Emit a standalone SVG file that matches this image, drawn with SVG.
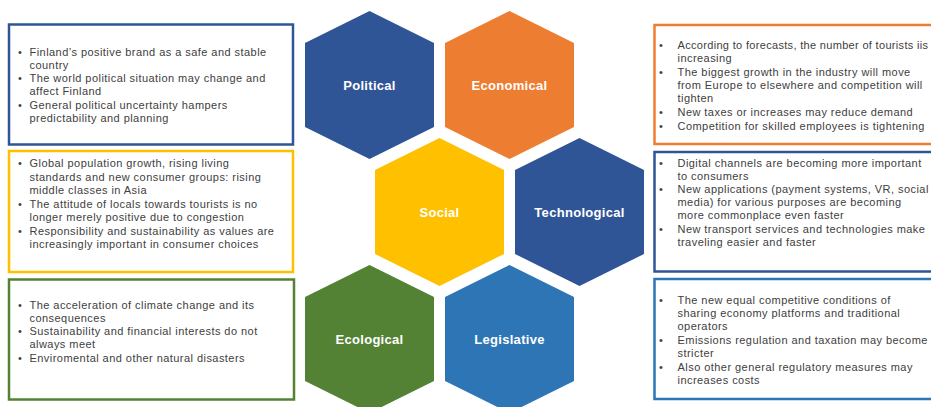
<svg xmlns="http://www.w3.org/2000/svg" width="931" height="407" viewBox="0 0 931 407">
<style>
.box{fill:#fff;stroke-width:2.5}
.hex-t{font-family:"Liberation Sans",Arial,sans-serif;font-weight:bold;font-size:13px;letter-spacing:0.3px;fill:#fff;text-anchor:middle}
.body{font-family:"Liberation Sans",Arial,sans-serif;font-size:11px;letter-spacing:0.45px;fill:#404040}
</style>
<defs>
<polygon id="hex" points="0,-74 64.5,-42 64.5,42 0,74 -64.5,42 -64.5,-42"/>
</defs>
<rect width="931" height="407" fill="#fff"/>
<g id="connectors"></g>

<g id="box-political">
<rect class="box" x="9" y="24.5" width="284" height="120" stroke="#2F5597"/>
<text class="body">
<tspan x="18" y="55.5">•</tspan><tspan x="29.5" y="55.5">Finland’s positive brand as a safe and stable</tspan>
<tspan x="29.5" y="68.5">country</tspan>
<tspan x="18" y="82">•</tspan><tspan x="29.5" y="82">The world political situation may change and</tspan>
<tspan x="29.5" y="95">affect Finland</tspan>
<tspan x="18" y="108.5">•</tspan><tspan x="29.5" y="108.5">General political uncertainty hampers</tspan>
<tspan x="29.5" y="121.5">predictability and planning</tspan>
</text>
</g>

<g id="box-social">
<rect class="box" x="9" y="151" width="284" height="121" stroke="#FFC000"/>
<text class="body">
<tspan x="18" y="167">•</tspan><tspan x="29.5" y="167">Global population growth, rising living</tspan>
<tspan x="29.5" y="180.5">standards and new consumer groups: rising</tspan>
<tspan x="29.5" y="194">middle classes in Asia</tspan>
<tspan x="18" y="208">•</tspan><tspan x="29.5" y="208">The attitude of locals towards tourists is no</tspan>
<tspan x="29.5" y="221">longer merely positive due to congestion</tspan>
<tspan x="18" y="235">•</tspan><tspan x="29.5" y="235">Responsibility and sustainability as values are</tspan>
<tspan x="29.5" y="248">increasingly important in consumer choices</tspan>
</text>
</g>

<g id="box-ecological">
<rect class="box" x="9" y="279.5" width="285" height="120" stroke="#548235"/>
<text class="body">
<tspan x="18" y="308.5">•</tspan><tspan x="29.5" y="308.5">The acceleration of climate change and its</tspan>
<tspan x="29.5" y="321.5">consequences</tspan>
<tspan x="18" y="335">•</tspan><tspan x="29.5" y="335">Sustainability and financial interests do not</tspan>
<tspan x="29.5" y="348">always meet</tspan>
<tspan x="18" y="361.5">•</tspan><tspan x="29.5" y="361.5">Enviromental and other natural disasters</tspan>
</text>
</g>

<g id="box-economical">
<rect class="box" x="654.5" y="25" width="300" height="119" stroke="#ED7D31"/>
<text class="body">
<tspan x="659" y="49">•</tspan><tspan x="677.5" y="49" textLength="251" lengthAdjust="spacing">According to forecasts, the number of tourists iis</tspan>
<tspan x="677.5" y="62">increasing</tspan>
<tspan x="659" y="76">•</tspan><tspan x="677.5" y="76">The biggest growth in the industry will move</tspan>
<tspan x="677.5" y="89">from Europe to elsewhere and competition will</tspan>
<tspan x="677.5" y="102">tighten</tspan>
<tspan x="659" y="116">•</tspan><tspan x="677.5" y="116">New taxes or increases may reduce demand</tspan>
<tspan x="659" y="130">•</tspan><tspan x="677.5" y="130">Competition for skilled employees is tightening</tspan>
</text>
</g>

<g id="box-technological">
<rect class="box" x="654.5" y="152" width="300" height="119.5" stroke="#2F5597"/>
<text class="body">
<tspan x="659" y="166.5">•</tspan><tspan x="677.5" y="166.5">Digital channels are becoming more important</tspan>
<tspan x="677.5" y="179.5">to consumers</tspan>
<tspan x="659" y="193">•</tspan><tspan x="677.5" y="193">New applications (payment systems, VR, social</tspan>
<tspan x="677.5" y="206">media) for various purposes are becoming</tspan>
<tspan x="677.5" y="219">more commonplace even faster</tspan>
<tspan x="659" y="232.5">•</tspan><tspan x="677.5" y="232.5">New transport services and technologies make</tspan>
<tspan x="677.5" y="245.5">traveling easier and faster</tspan>
</text>
</g>

<g id="box-legislative">
<rect class="box" x="654.5" y="279" width="300" height="120" stroke="#2E75B6"/>
<text class="body">
<tspan x="659" y="304">•</tspan><tspan x="677.5" y="304">The new equal competitive conditions of</tspan>
<tspan x="677.5" y="317">sharing economy platforms and traditional</tspan>
<tspan x="677.5" y="330">operators</tspan>
<tspan x="659" y="344">•</tspan><tspan x="677.5" y="344">Emissions regulation and taxation may become</tspan>
<tspan x="677.5" y="357">stricter</tspan>
<tspan x="659" y="370.5">•</tspan><tspan x="677.5" y="370.5">Also other general regulatory measures may</tspan>
<tspan x="677.5" y="383.5">increases costs</tspan>
</text>
</g>

<g id="hex-political">
<use href="#hex" x="369.5" y="85" fill="#2F5597"/>
<text class="hex-t" x="369.5" y="89.5">Political</text>
</g>
<g id="hex-economical">
<use href="#hex" x="509.5" y="85" fill="#ED7D31"/>
<text class="hex-t" x="509.5" y="89.5">Economical</text>
</g>
<g id="hex-social">
<use href="#hex" x="439.5" y="212" fill="#FFC000"/>
<text class="hex-t" x="439.5" y="216.5">Social</text>
</g>
<g id="hex-technological">
<use href="#hex" x="579.5" y="212" fill="#2F5597"/>
<text class="hex-t" x="579.5" y="216.5">Technological</text>
</g>
<g id="hex-ecological">
<use href="#hex" x="369.5" y="339" fill="#548235"/>
<text class="hex-t" x="369.5" y="343.5">Ecological</text>
</g>
<g id="hex-legislative">
<use href="#hex" x="509.5" y="339" fill="#2E75B6"/>
<text class="hex-t" x="509.5" y="343.5">Legislative</text>
</g>
</svg>
